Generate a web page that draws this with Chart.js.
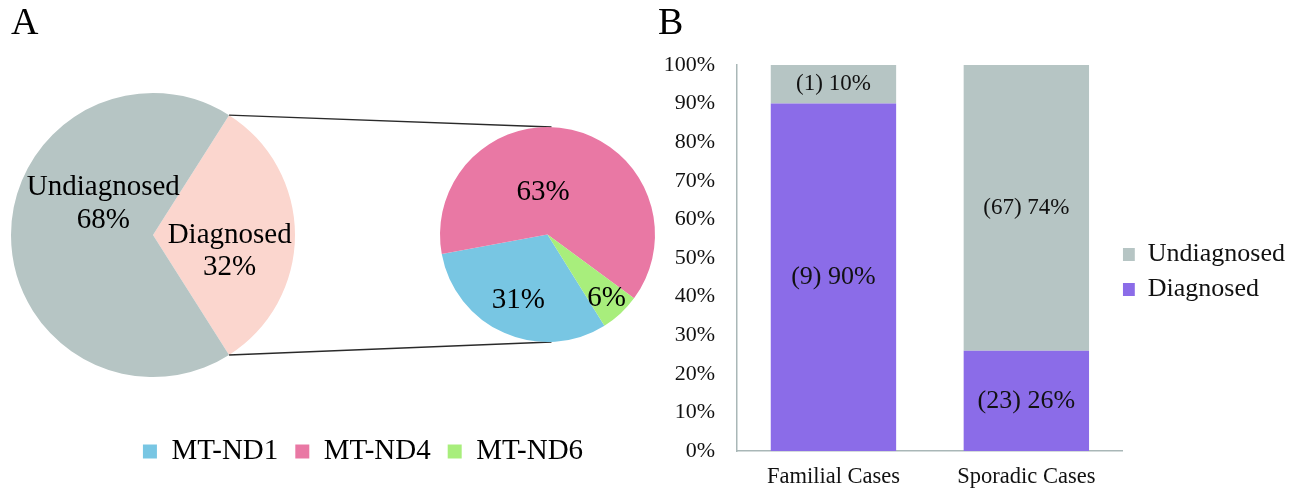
<!DOCTYPE html>
<html>
<head>
<meta charset="utf-8">
<script src="https://cdn.jsdelivr.net/npm/chart.js@4.4.1/dist/chart.umd.min.js"></script>
<style>
  html, body { margin: 0; padding: 0; background: #fff; overflow: hidden; width: 1295px; height: 488px; }
  #wrap { position: relative; width: 1295px; height: 488px; overflow: hidden; background: #fff; }
  .box { position: absolute; }
</style>
</head>
<body>
<div id="wrap">
  <div class="box" style="left:11px;top:0px;width:284px;height:410px"><canvas id="a1"></canvas></div>
  <div class="box" style="left:220px;top:60px;width:480px;height:360px"><canvas id="a2"></canvas></div>
  <div class="box" style="left:0px;top:420px;width:726px;height:160px"><canvas id="a3"></canvas></div>
  <div class="box" style="left:658px;top:0px;width:637px;height:553px"><canvas id="b"></canvas></div>
</div>
<script>
// ---------------- data ----------------
const pieACategories = ['Diagnosed', 'Undiagnosed'];
const pieAValues = [32, 68];

const geneCategories = ['MT-ND1', 'MT-ND4', 'MT-ND6'];
const geneValues = [31, 63, 6];

const barCategories = ['Familial Cases', 'Sporadic Cases'];
const diagnosedPct = [90, 26];
const undiagnosedPct = [10, 74];
const diagnosedCount = [9, 23];
const undiagnosedCount = [1, 67];

const yTickLabels = ['0%', '10%', '20%', '30%', '40%', '50%', '60%', '70%', '80%', '90%', '100%'];

// ---------------- styles ----------------
const SERIF = "'Liberation Serif', 'Times New Roman', 'DejaVu Serif', serif";
const COL_UNDIAG = '#b6c5c4';
const COL_DIAG_PIE = '#fbd6ce';
const COL_DIAG_BAR = '#8b6ce8';
const GENE_COLORS = ['#78c6e3', '#e978a4', '#a8ee7c'];
const AXIS_COLOR = '#a9b7b7';

Chart.defaults.font.family = SERIF;
Chart.defaults.color = '#111';

// Labels drawn inside pie slices, positioned from the arc geometry
const sliceLabelPlugin = {
  id: 'sliceLabels',
  afterDatasetsDraw(chart, args, opts) {
    if (!opts || !opts.texts) return;
    const meta = chart.getDatasetMeta(0);
    const ctx = chart.ctx;
    ctx.save();
    ctx.font = opts.size + 'px ' + SERIF;
    ctx.fillStyle = '#000';
    ctx.textAlign = 'center';
    ctx.textBaseline = 'middle';
    meta.data.forEach((arc, i) => {
      const p = arc.getProps(['x', 'y', 'startAngle', 'endAngle', 'outerRadius'], true);
      const mid = (p.startAngle + p.endAngle) / 2;
      const f = opts.radial[i];
      const off = opts.offset[i];
      const cx = p.x + Math.cos(mid) * p.outerRadius * f + off[0];
      const cy = p.y + Math.sin(mid) * p.outerRadius * f + off[1];
      const lines = opts.texts[i];
      lines.forEach((t, k) => {
        ctx.fillText(t, cx, cy + (k - (lines.length - 1) / 2) * opts.lineHeight);
      });
    });
    ctx.restore();
  }
};

// Lines joining the exploded slice of the big pie to the secondary pie
const connectorPlugin = {
  id: 'connector',
  beforeDatasetsDraw(chart, args, opts) {
    const src = Chart.getChart('a1');
    if (!src) return;
    const arc = src.getDatasetMeta(0).data[opts.sourceIndex];
    if (!arc) return;
    const a = arc.getProps(['x', 'y', 'startAngle', 'endAngle', 'outerRadius'], true);
    const sr = src.canvas.getBoundingClientRect();
    const dr = chart.canvas.getBoundingClientRect();
    const ox = sr.left - dr.left, oy = sr.top - dr.top;
    const t = chart.getDatasetMeta(0).data[0].getProps(['x', 'y', 'outerRadius'], true);
    const p1 = [ox + a.x + Math.cos(a.startAngle) * a.outerRadius, oy + a.y + Math.sin(a.startAngle) * a.outerRadius];
    const p2 = [ox + a.x + Math.cos(a.endAngle) * a.outerRadius, oy + a.y + Math.sin(a.endAngle) * a.outerRadius];
    const ctx = chart.ctx;
    ctx.save();
    ctx.strokeStyle = '#2a2a2a';
    ctx.lineWidth = 1.4;
    ctx.beginPath();
    ctx.moveTo(p1[0], p1[1]);
    ctx.lineTo(t.x + 4, t.y - t.outerRadius);
    ctx.moveTo(p2[0], p2[1]);
    ctx.lineTo(t.x + 4, t.y + t.outerRadius);
    ctx.stroke();
    ctx.restore();
  }
};

// Labels centred in each stacked bar segment
const barLabelPlugin = {
  id: 'barLabels',
  afterDatasetsDraw(chart, args, opts) {
    const ctx = chart.ctx;
    chart.data.datasets.forEach((ds, di) => {
      const meta = chart.getDatasetMeta(di);
      ctx.save();
      ctx.font = opts.sizes[di] + 'px ' + SERIF;
      ctx.fillStyle = '#111';
      ctx.textAlign = 'center';
      ctx.textBaseline = 'middle';
      meta.data.forEach((bar, i) => {
        const b = bar.getProps(['x', 'y', 'base'], true);
        ctx.fillText('(' + ds.counts[i] + ') ' + ds.data[i] + '%', b.x, (b.y + b.base) / 2);
      });
      ctx.restore();
    });
  }
};

// ---------------- Panel A: main pie ----------------
new Chart('a1', {
  type: 'pie',
  data: {
    labels: pieACategories,
    datasets: [{ data: pieAValues, backgroundColor: [COL_DIAG_PIE, COL_UNDIAG], borderWidth: 0 }]
  },
  options: {
    responsive: true, maintainAspectRatio: false, animation: false, events: [],
    rotation: 32.4,
    layout: { padding: 0 },
    plugins: {
      legend: { display: false },
      tooltip: { enabled: false },
      title: { display: true, text: 'A', align: 'start', color: '#000', font: { size: 38, weight: 'normal' }, padding: { top: 1.5, bottom: 13 } },
      sliceLabels: {
        texts: pieACategories.map((c, i) => [c, pieAValues[i] + '%']),
        radial: [0.54, 0.35],
        offset: [[0, 16.5], [0, -31]],
        size: 29,
        lineHeight: 32.5
      }
    }
  },
  plugins: [sliceLabelPlugin]
});

// ---------------- Panel A: secondary pie ----------------
new Chart('a2', {
  type: 'pie',
  data: {
    labels: geneCategories,
    datasets: [{ data: geneValues, backgroundColor: GENE_COLORS, borderWidth: 0 }]
  },
  options: {
    responsive: true, maintainAspectRatio: false, animation: false, events: [],
    rotation: 148,
    layout: { padding: { left: 220, right: 45, top: 67, bottom: 78 } },
    plugins: {
      legend: { display: false },
      tooltip: { enabled: false },
      connector: { sourceIndex: 0 },
      sliceLabels: {
        texts: geneValues.map(v => [v + '%']),
        radial: [0.67, 0.4, 0.81],
        offset: [[0, 0], [-14, 0], [0, 0]],
        size: 29,
        lineHeight: 32
      }
    }
  },
  plugins: [connectorPlugin, sliceLabelPlugin]
});

// ---------------- Panel A: legend of the secondary pie ----------------
new Chart('a3', {
  type: 'pie',
  data: {
    labels: geneCategories,
    datasets: [{ data: geneValues, backgroundColor: GENE_COLORS, borderWidth: 0, radius: 0 }]
  },
  options: {
    responsive: true, maintainAspectRatio: false, animation: false, events: [],
    plugins: {
      tooltip: { enabled: false },
      legend: {
        position: 'top',
        labels: { font: { size: 29 }, color: '#000', boxWidth: 14, boxHeight: 14, padding: 17 }
      }
    }
  }
});

// ---------------- Panel B: stacked bars ----------------
new Chart('b', {
  type: 'bar',
  data: {
    labels: barCategories,
    datasets: [
      { label: 'Diagnosed', data: diagnosedPct, counts: diagnosedCount, backgroundColor: COL_DIAG_BAR, borderWidth: 0 },
      { label: 'Undiagnosed', data: undiagnosedPct, counts: undiagnosedCount, backgroundColor: COL_UNDIAG, borderWidth: 0 }
    ]
  },
  options: {
    responsive: true, maintainAspectRatio: false, animation: false, events: [],
    layout: { padding: 0 },
    datasets: { bar: { barPercentage: 0.65, categoryPercentage: 1 } },
    scales: {
      x: {
        stacked: true,
        grid: { display: false, drawTicks: false },
        border: { display: true, color: AXIS_COLOR, width: 1.5 },
        ticks: { padding: 13, font: { size: 22.5 }, color: '#111' },
        afterFit(s) { s.height = 102; }
      },
      y: {
        stacked: true, min: 0, max: 100,
        grid: { display: false, drawTicks: false },
        border: { display: true, color: AXIS_COLOR, width: 1.5 },
        ticks: { stepSize: 10, padding: 22, font: { size: 22 }, color: '#111', callback: (v, i) => yTickLabels[i] },
        afterFit(s) { s.width = 79; }
      }
    },
    plugins: {
      tooltip: { enabled: false },
      title: { display: true, text: 'B', align: 'start', color: '#000', font: { size: 38, weight: 'normal' }, padding: { top: 1.5, bottom: 17.9 } },
      legend: {
        position: 'right', reverse: true, maxWidth: 173,
        labels: {
          font: { size: 26, lineHeight: 35 / 26 }, color: '#111', boxWidth: 12, boxHeight: 13, padding: 0,
          generateLabels(chart) {
            return Chart.defaults.plugins.legend.labels.generateLabels(chart).map(it => Object.assign({}, it, { text: [it.text] }));
          }
        }
      },
      barLabels: { sizes: [26, 23] }
    }
  },
  plugins: [barLabelPlugin]
});
</script>
</body>
</html>
